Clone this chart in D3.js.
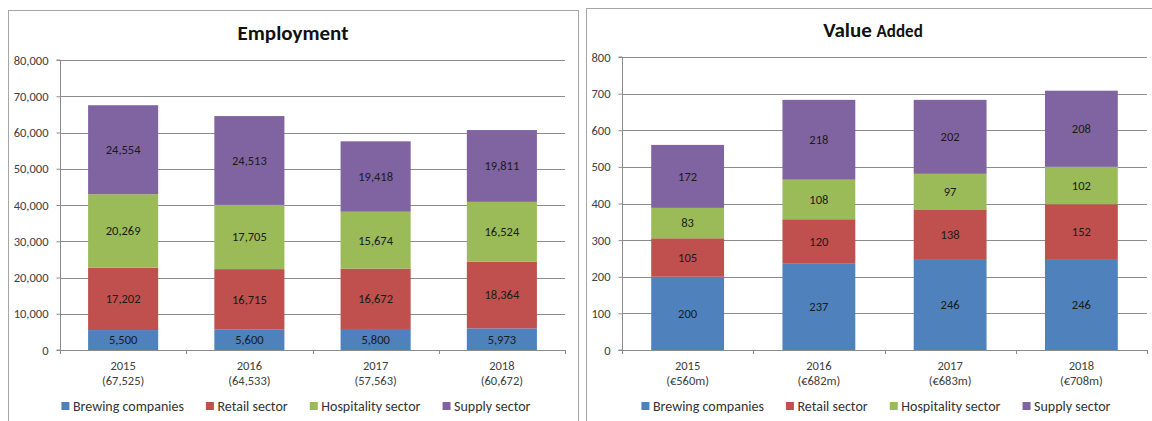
<!DOCTYPE html>
<html>
<head>
<meta charset="utf-8">
<script src="https://cdn.jsdelivr.net/npm/d3@7"></script>
<style>
  html, body { margin: 0; padding: 0; background: #fff; }
  svg { display: block; }
  text { font-family: Carlito, Calibri, Lato, sans-serif; }
</style>
</head>
<body>
<svg id="chart" width="1152" height="421"></svg>
<script>
// series names and colours (Excel 2007 palette)
var sectors = ['Brewing companies', 'Retail sector', 'Hospitality sector', 'Supply sector'];
var colors = ['#4f81bd', '#c0504d', '#9bbb59', '#8064a2'];
var years = ['2015', '2016', '2017', '2018'];

// Employment
var empBrewing = [5500, 5600, 5800, 5973];
var empRetail = [17202, 16715, 16672, 18364];
var empHospitality = [20269, 17705, 15674, 16524];
var empSupply = [24554, 24513, 19418, 19811];
var empTotals = ['(67,525)', '(64,533)', '(57,563)', '(60,672)'];
var empTicks = [0, 10000, 20000, 30000, 40000, 50000, 60000, 70000, 80000];

// Value added (EUR m)
var vaBrewing = [200, 237, 246, 246];
var vaRetail = [105, 120, 138, 152];
var vaHospitality = [83, 108, 97, 102];
var vaSupply = [172, 218, 202, 208];
var vaTotals = ['(€560m)', '(€682m)', '(€683m)', '(€708m)'];
var vaTicks = [0, 100, 200, 300, 400, 500, 600, 700, 800];

var svg = d3.select('#chart');
var fmt = d3.format(',');

function drawPanel(opt) {
  var g = svg.append('g');

  // panel frame (runs off the bottom of the picture)
  g.append('rect')
    .attr('x', opt.frame[0] + 0.5).attr('y', opt.frame[1] + 0.5)
    .attr('width', opt.frame[2]).attr('height', 440)
    .attr('fill', 'none').attr('stroke', '#a6a6a6').attr('stroke-width', 1);

  var rows = years.map(function(y, i) {
    var r = { year: y };
    opt.series.forEach(function(s, k) { r[sectors[k]] = s[i]; });
    return r;
  });
  var stacked = d3.stack().keys(sectors)(rows);

  var x = d3.scaleBand().domain(years)
    .range([opt.left, opt.right])
    .paddingInner(0.445).paddingOuter(0.2225);
  var y = d3.scaleLinear().domain([0, opt.ticks[opt.ticks.length - 1]])
    .range([opt.bottom, opt.top]);

  // gridlines
  g.append('g').selectAll('line').data(opt.ticks.slice(1)).join('line')
    .attr('x1', opt.left).attr('x2', opt.right)
    .attr('y1', function(d) { return Math.round(y(d)) + 0.5; })
    .attr('y2', function(d) { return Math.round(y(d)) + 0.5; })
    .attr('stroke', '#8c8c8c').attr('stroke-width', 1);

  // bars
  g.append('g').selectAll('g').data(stacked).join('g')
    .attr('fill', function(d, k) { return colors[k]; })
    .selectAll('rect').data(function(d) { return d; }).join('rect')
    .attr('x', function(d) { return x(d.data.year); })
    .attr('width', x.bandwidth())
    .attr('y', function(d) { return y(d[1]); })
    .attr('height', function(d) { return y(d[0]) - y(d[1]); });

  // data labels
  g.append('g').selectAll('g').data(stacked).join('g')
    .selectAll('text').data(function(d) { return d; }).join('text')
    .attr('x', function(d) { return x(d.data.year) + x.bandwidth() / 2; })
    .attr('y', function(d) { return (y(d[0]) + y(d[1])) / 2; })
    .attr('dy', '0.35em')
    .attr('text-anchor', 'middle')
    .attr('font-size', opt.labelSize)
    .attr('fill', '#1a1a1a')
    .text(function(d) { return fmt(d[1] - d[0]); });

  // y axis
  var yAxis = d3.axisLeft(y).tickValues(opt.ticks).tickSize(4).tickPadding(8)
    .tickFormat(fmt);
  var ya = g.append('g').attr('transform', 'translate(' + (opt.left + 0.5) + ',0)').call(yAxis);
  ya.select('.domain').attr('stroke', '#8c8c8c').attr('d', 'M-4,' + opt.bottom + 'H0V' + opt.top + 'H-4');
  ya.selectAll('.tick line').attr('stroke', '#8c8c8c');
  ya.selectAll('.tick text').attr('font-size', opt.tickSize).attr('fill', '#404040');
  ya.attr('font-family', null).attr('font-size', null);

  // x axis line with category dividers
  var step = x.step();
  var xa = g.append('g');
  xa.append('line')
    .attr('x1', opt.left).attr('x2', opt.right)
    .attr('y1', opt.bottom + 0.5).attr('y2', opt.bottom + 0.5)
    .attr('stroke', '#8c8c8c');
  xa.selectAll('line.div').data(d3.range(years.length + 1)).join('line')
    .attr('class', 'div')
    .attr('x1', function(i) { return Math.round(opt.left + i * step) + 0.5; })
    .attr('x2', function(i) { return Math.round(opt.left + i * step) + 0.5; })
    .attr('y1', opt.bottom).attr('y2', opt.bottom + 4)
    .attr('stroke', '#8c8c8c');

  // category labels
  var cat = g.append('g').selectAll('text').data(years).join('text')
    .attr('text-anchor', 'middle')
    .attr('font-size', opt.tickSize)
    .attr('fill', '#404040');
  cat.append('tspan')
    .attr('x', function(d) { return x(d) + x.bandwidth() / 2; })
    .attr('y', opt.bottom + 20)
    .text(function(d) { return d; });
  cat.append('tspan')
    .attr('x', function(d) { return x(d) + x.bandwidth() / 2; })
    .attr('y', opt.bottom + 35)
    .text(function(d, i) { return opt.totals[i]; });

  // title
  var title = g.append('text')
    .attr('x', opt.titleX).attr('y', opt.titleY)
    .attr('text-anchor', 'middle')
    .attr('font-weight', 'bold')
    .attr('fill', '#111');
  opt.title.forEach(function(part) {
    title.append('tspan').attr('font-size', part[1]).text(part[0]);
  });

  // legend
  var leg = g.append('g');
  var items = leg.selectAll('g').data(sectors).join('g');
  items.append('rect')
    .attr('width', 8).attr('height', 8).attr('y', -4)
    .attr('fill', function(d, k) { return colors[k]; });
  items.append('text')
    .attr('x', 11.5).attr('dy', '0.35em')
    .attr('font-size', opt.legendSize)
    .attr('fill', '#333')
    .text(function(d) { return d; });
  var pos = 0;
  items.each(function() {
    d3.select(this).attr('transform', 'translate(' + pos + ',0)');
    pos += this.getBBox().width + 22;
  });
  var total = pos - 22;
  leg.attr('transform', 'translate(' + (opt.legendX - total / 2) + ',' + opt.legendY + ')');
}

drawPanel({
  frame: [8, 10, 570],
  left: 60, right: 565, top: 60, bottom: 350,
  series: [empBrewing, empRetail, empHospitality, empSupply],
  totals: empTotals,
  ticks: empTicks,
  title: [['Employment', 21]],
  titleX: 293, titleY: 40,
  legendX: 296, legendY: 406,
  labelSize: 12.5, tickSize: 12.5, legendSize: 14
});

drawPanel({
  frame: [586, 8, 580],
  left: 622, right: 1147, top: 57, bottom: 350,
  series: [vaBrewing, vaRetail, vaHospitality, vaSupply],
  totals: vaTotals,
  ticks: vaTicks,
  title: [['Value ', 21], ['Added', 17]],
  titleX: 873, titleY: 37,
  legendX: 876, legendY: 406,
  labelSize: 12.5, tickSize: 12.5, legendSize: 14
});
</script>
</body>
</html>
